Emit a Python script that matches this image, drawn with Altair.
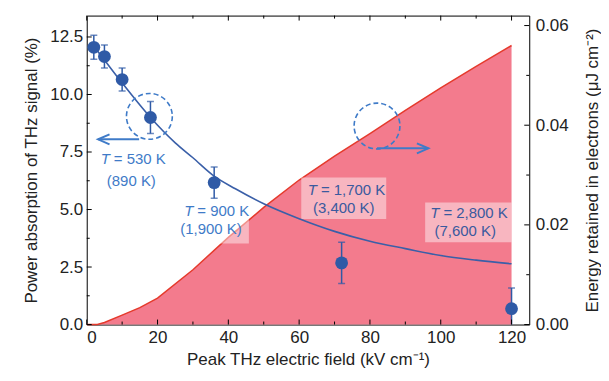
import altair as alt
import pandas as pd

W, H = 444, 310
XMAX = 125
YMAX = 13.43
EMAX = 0.062

# measured points (power absorption %)
field_kv = [2, 5, 10, 18, 36, 72, 120]
absorption = [12.05, 11.65, 10.65, 9.0, 6.17, 2.68, 0.69]
abs_err = [0.52, 0.5, 0.5, 0.7, 0.68, 0.9, 0.9]

# fitted curve (power absorption %)
fit_kv = [2, 5, 10, 18, 25, 30, 36, 42, 50, 60, 70, 80, 90, 100, 110, 120]
fit_abs = [12.1, 11.5, 10.5, 9.0, 7.9, 7.25, 6.45, 5.9, 5.25, 4.6, 4.05, 3.62, 3.3, 3.0, 2.8, 2.64]

# energy retained in electrons (uJ cm^-2)
energy_kv = [0, 3, 5, 10, 15, 20, 30, 40, 50, 60, 70, 80, 90, 100, 110, 120]
energy = [0, 0, 0.0004, 0.0019, 0.0034, 0.0053, 0.011, 0.0175, 0.0235, 0.029,
          0.0338, 0.0383, 0.043, 0.0475, 0.0518, 0.056]

# dashed circles and arrows (in left-axis units)
circle_kv = [17.7, 82.0]
circle_abs = [9.05, 8.63]
arrow_start_kv = [14.8, 82.0]
arrow_end_kv = [3.2, 96.5]
arrow_abs = [8.05, 7.66]

# annotations
out_T_kv = [6.8, 30.4]
out_T_abs = [7.2, 4.95]
out_eq = ["= 530 K", "= 900 K"]
out_par = ["(890 K)", "(1,900 K)"]
out_par_kv = [12.6, 35.1]
out_par_abs = [6.25, 4.17]

in_T_kv = [65.3, 99.9]
in_T_abs = [5.86, 4.86]
in_eq = ["= 1,700 K", "= 2,800 K"]
in_par = ["(3,400 K)", "(7,600 K)"]
in_par_kv = [72.6, 106.9]
in_par_abs = [5.08, 4.08]

box_kv1 = [26.1, 60.6, 95.6]
box_kv2 = [45.8, 84.6, 120.0]
box_top = [4.66, 6.39, 5.31]
box_bot = [3.52, 4.59, 3.58]

# axis ticks
x_major = [0, 20, 40, 60, 80, 100, 120]
x_minor = [10, 30, 50, 70, 90, 110]
y_major = [0, 2.5, 5.0, 7.5, 10.0, 12.5]
y_minor = [1.25, 3.75, 6.25, 8.75, 11.25]
e_major = [0, 0.02, 0.04, 0.06]
e_minor = [0.01, 0.03, 0.05]

FONT = "Liberation Sans"
BLUE_PT = "#2f5aa6"
BLUE_TXT = "#3f7bc8"
BLUE_IN = "#3a5a9e"

xs = alt.Scale(domain=[0, XMAX], nice=False, zero=False)
ys = alt.Scale(domain=[0, YMAX], nice=False, zero=False)
es = alt.Scale(domain=[0, EMAX], nice=False, zero=False)

x_axis = alt.Axis(values=x_major, ticks=False, domain=False, grid=False,
                  labelPadding=5, titlePadding=6, format="d")
y_axis = alt.Axis(orient="left", values=y_major, ticks=False, domain=False, grid=False,
                  labelPadding=4, titlePadding=9, format=".1f")
e_axis = alt.Axis(orient="right", values=e_major, ticks=False, domain=False, grid=False,
                  labelPadding=6, titlePadding=16, format=".2f",
                  titleAngle=270, titleBaseline="top")

pts = pd.DataFrame({"x": field_kv, "y": absorption, "e": abs_err})
pts["lo"] = pts["y"] - pts["e"]
pts["hi"] = pts["y"] + pts["e"]
fit = pd.DataFrame({"x": fit_kv, "y": fit_abs})
en = pd.DataFrame({"x": energy_kv, "y": energy})
circ = pd.DataFrame({"x": circle_kv, "y": circle_abs})
arr = pd.DataFrame({"x": arrow_start_kv, "x2": arrow_end_kv, "y": arrow_abs})
boxes = pd.DataFrame({"x": box_kv1, "x2": box_kv2, "y": box_top, "y2": box_bot})

X = lambda: alt.X("x:Q", scale=xs, axis=x_axis, title="Peak THz electric field (kV cm⁻¹)")

# ---- right (energy) group ----
area = alt.Chart(en).mark_area(color="#f27487", opacity=0.95, line={"color": "#e53a2c", "strokeWidth": 1.5}).encode(
    x=X(),
    y=alt.Y("y:Q", scale=es, axis=e_axis, title="Energy retained in electrons (μJ cm⁻²)"),
)
e_ticks_major = alt.Chart(pd.DataFrame({"y": e_major})).mark_rule(color="black").encode(
    y=alt.Y("y:Q", scale=es), x=alt.value(W), x2=alt.value(W - 5))
e_ticks_minor = alt.Chart(pd.DataFrame({"y": e_minor})).mark_rule(color="black").encode(
    y=alt.Y("y:Q", scale=es), x=alt.value(W), x2=alt.value(W - 3))
right_group = alt.layer(area, e_ticks_major, e_ticks_minor)

# ---- left (absorption) group ----
box_layer = alt.Chart(boxes).mark_rect(color="white", opacity=0.45).encode(
    x=X(), x2="x2:Q",
    y=alt.Y("y:Q", scale=ys, axis=y_axis, title="Power absorption of THz signal (%)"), y2="y2:Q")
fit_line = alt.Chart(fit).mark_line(color="#3a5fa8", strokeWidth=1.6, interpolate="monotone").encode(
    x=X(), y=alt.Y("y:Q", scale=ys))
err_rule = alt.Chart(pts).mark_rule(color=BLUE_PT, strokeWidth=1.5, clip=True).encode(
    x=X(), y=alt.Y("lo:Q", scale=ys), y2="hi:Q")
cap_lo = alt.Chart(pts).mark_tick(color=BLUE_PT, thickness=1.5, size=7, orient="horizontal", clip=True).encode(
    x=X(), y=alt.Y("lo:Q", scale=ys))
cap_hi = alt.Chart(pts).mark_tick(color=BLUE_PT, thickness=1.5, size=7, orient="horizontal", clip=True).encode(
    x=X(), y=alt.Y("hi:Q", scale=ys))
points = alt.Chart(pts).mark_circle(color=BLUE_PT, size=165, opacity=1).encode(
    x=X(), y=alt.Y("y:Q", scale=ys))
circles = alt.Chart(circ).mark_point(shape="circle", size=2116, filled=False, color=BLUE_TXT,
                                      strokeWidth=1.6, strokeDash=[5, 3], opacity=1).encode(
    x=X(), y=alt.Y("y:Q", scale=ys))
arrow_lines = alt.Chart(arr).mark_rule(color=BLUE_TXT, strokeWidth=2).encode(
    x=X(), x2="x2:Q", y=alt.Y("y:Q", scale=ys))
head_left = alt.Chart(arr.iloc[[0]]).mark_point(shape="M2.3,-1L0,0L2.3,1", size=100, filled=False,
                                                 color=BLUE_TXT, strokeWidth=2, opacity=1).encode(
    x=alt.X("x2:Q", scale=xs), y=alt.Y("y:Q", scale=ys))
head_right = alt.Chart(arr.iloc[[1]]).mark_point(shape="M-2.3,-1L0,0L-2.3,1", size=100, filled=False,
                                                  color=BLUE_TXT, strokeWidth=2, opacity=1).encode(
    x=alt.X("x2:Q", scale=xs), y=alt.Y("y:Q", scale=ys))


def labels(T_kv, T_abs, eq, par, par_kv, par_abs, color):
    d1 = pd.DataFrame({"x": T_kv, "y": T_abs, "t": ["T"] * len(T_kv), "eq": eq})
    d2 = pd.DataFrame({"x": par_kv, "y": par_abs, "t": par})
    t_it = alt.Chart(d1).mark_text(font=FONT, fontSize=15, fontStyle="italic", align="right",
                                   baseline="middle", dx=-1, color=color).encode(
        x=alt.X("x:Q", scale=xs), y=alt.Y("y:Q", scale=ys), text="t:N")
    t_eq = alt.Chart(d1).mark_text(font=FONT, fontSize=15, align="left",
                                   baseline="middle", dx=3, color=color).encode(
        x=alt.X("x:Q", scale=xs), y=alt.Y("y:Q", scale=ys), text="eq:N")
    t_par = alt.Chart(d2).mark_text(font=FONT, fontSize=15, align="center",
                                    baseline="middle", color=color).encode(
        x=alt.X("x:Q", scale=xs), y=alt.Y("y:Q", scale=ys), text="t:N")
    return [t_it, t_eq, t_par]


x_ticks = []
for vals, ln in ((x_major, 5), (x_minor, 3)):
    d = pd.DataFrame({"x": vals})
    x_ticks.append(alt.Chart(d).mark_rule(color="black").encode(
        x=alt.X("x:Q", scale=xs), y=alt.value(H), y2=alt.value(H - ln)))
    x_ticks.append(alt.Chart(d).mark_rule(color="black").encode(
        x=alt.X("x:Q", scale=xs), y=alt.value(0), y2=alt.value(ln)))
y_ticks = []
for vals, ln in ((y_major, 5), (y_minor, 3)):
    d = pd.DataFrame({"y": vals})
    y_ticks.append(alt.Chart(d).mark_rule(color="black").encode(
        y=alt.Y("y:Q", scale=ys), x=alt.value(0), x2=alt.value(ln)))

left_group = alt.layer(
    box_layer, fit_line, err_rule, cap_lo, cap_hi, points, circles, arrow_lines, head_left, head_right,
    *labels(out_T_kv, out_T_abs, out_eq, out_par, out_par_kv, out_par_abs, BLUE_TXT),
    *labels(in_T_kv, in_T_abs, in_eq, in_par, in_par_kv, in_par_abs, BLUE_IN),
    *x_ticks, *y_ticks,
)

chart = alt.layer(right_group, left_group).resolve_scale(y="independent").properties(
    width=W, height=H,
    padding={"left": 14, "top": 6, "right": 0, "bottom": 2},
    background="white",
).configure_view(stroke="black", strokeWidth=1).configure_axis(
    labelFont=FONT, titleFont=FONT, labelFontSize=17, titleFontSize=17,
    labelColor="#222", titleColor="#222", titleFontWeight="normal",
)

chart.save("out.html", embed_options={"renderer": "svg", "actions": False})
